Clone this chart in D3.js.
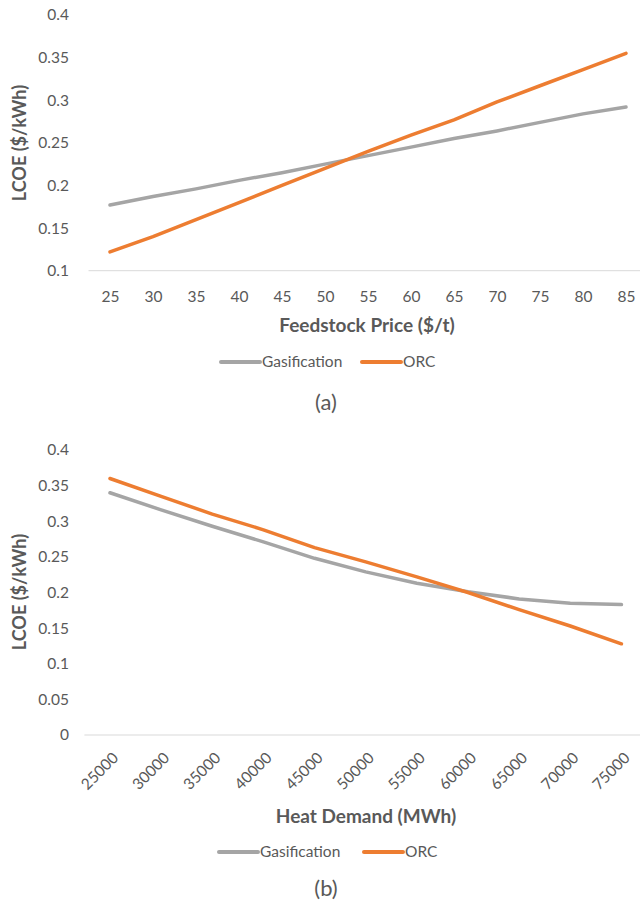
<!DOCTYPE html>
<html>
<head>
<meta charset="utf-8">
<script src="https://cdn.jsdelivr.net/npm/d3@7"></script>
<style>
  body { margin: 0; background: #fff; }
  svg { display: block; }
  text { font-family: Lato, "Open Sans", sans-serif; fill: #595959; }
</style>
</head>
<body>
<svg id="chart" width="640" height="905"></svg>
<script>
// Panel (a): LCOE against feedstock price
const feedstockPrice = [25, 30, 35, 40, 45, 50, 55, 60, 65, 70, 75, 80, 85];
const gasificationA = [0.177, 0.187, 0.196, 0.206, 0.215, 0.225, 0.235, 0.245, 0.255, 0.264, 0.274, 0.284, 0.292];
const orcA = [0.122, 0.140, 0.160, 0.180, 0.200, 0.220, 0.240, 0.259, 0.277, 0.298, 0.317, 0.336, 0.355];
const yTicksA = [0.1, 0.15, 0.2, 0.25, 0.3, 0.35, 0.4];

// Panel (b): LCOE against heat demand
const heatDemand = [25000, 30000, 35000, 40000, 45000, 50000, 55000, 60000, 65000, 70000, 75000];
const gasificationB = [0.340, 0.316, 0.293, 0.271, 0.248, 0.229, 0.213, 0.201, 0.191, 0.185, 0.183];
const orcB = [0.360, 0.335, 0.310, 0.288, 0.263, 0.243, 0.222, 0.200, 0.176, 0.153, 0.128];
const yTicksB = [0, 0.05, 0.1, 0.15, 0.2, 0.25, 0.3, 0.35, 0.4];

const seriesNames = ["Gasification", "ORC"];
const seriesColors = ["#A5A5A5", "#ED7D31"];

const svg = d3.select("#chart");

function panel(opts) {
  const g = svg.append("g");
  const x = d3.scalePoint().domain(opts.cats).range(opts.xRange).padding(0.5);
  const y = d3.scaleLinear().domain(opts.yDomain).range(opts.yRange);

  // baseline gridline
  g.append("line")
    .attr("x1", opts.xRange[0]).attr("x2", opts.xRange[1])
    .attr("y1", y(opts.yDomain[0])).attr("y2", y(opts.yDomain[0]))
    .attr("stroke", "#D9D9D9").attr("stroke-width", 1);

  // y axis labels
  const yAxis = d3.axisLeft(y).tickValues(opts.yTicks).tickSize(0).tickPadding(0)
    .tickFormat(d => d3.format("")(+d.toFixed(2)));
  const ya = g.append("g").attr("transform", `translate(${opts.yLabelX},0)`).call(yAxis);
  ya.select(".domain").remove();
  ya.selectAll("text").attr("font-size", 15.5).attr("fill", "#595959")
    .attr("font-family", "Lato, 'Open Sans', sans-serif");

  // x axis labels
  const xAxis = d3.axisBottom(x).tickSize(0).tickPadding(0);
  const xa = g.append("g").attr("transform", `translate(0,${y(opts.yDomain[0])})`).call(xAxis);
  xa.select(".domain").remove();
  xa.selectAll("text").attr("font-size", 15.5).attr("fill", "#595959")
    .attr("font-family", "Lato, 'Open Sans', sans-serif");
  if (opts.rotate) {
    xa.selectAll("text")
      .attr("text-anchor", "end")
      .attr("dy", "0.35em")
      .attr("transform", "translate(5,20) rotate(-45)");
  } else {
    xa.selectAll("text").attr("dy", "0").attr("y", 31);
  }

  // series lines
  const line = d3.line().x((d, i) => x(opts.cats[i])).y(d => y(d));
  opts.series.forEach((s, i) => {
    g.append("path").datum(s)
      .attr("d", line)
      .attr("fill", "none")
      .attr("stroke", seriesColors[i])
      .attr("stroke-width", 3.5)
      .attr("stroke-linecap", "round")
      .attr("stroke-linejoin", "round");
  });

  // axis titles
  g.append("text").attr("x", opts.xTitlePos[0]).attr("y", opts.xTitlePos[1])
    .attr("text-anchor", "middle").attr("font-size", 19).attr("font-weight", "bold")
    .text(opts.xTitle);
  g.append("text")
    .attr("transform", `translate(${opts.yTitlePos[0]},${opts.yTitlePos[1]}) rotate(-90)`)
    .attr("text-anchor", "middle").attr("font-size", 18).attr("font-weight", "bold")
    .text("LCOE ($/kWh)");

  // legend
  const lg = g.append("g").attr("transform", `translate(0,${opts.legendY})`);
  opts.legendX.forEach((lx, i) => {
    lg.append("line").attr("x1", lx).attr("x2", lx + 39).attr("y1", 0).attr("y2", 0)
      .attr("stroke", seriesColors[i]).attr("stroke-width", 4).attr("stroke-linecap", "round");
    lg.append("text").attr("x", lx + 41).attr("y", 0).attr("dy", "0.35em")
      .attr("font-size", 15.5).text(seriesNames[i]);
  });

  // panel caption
  g.append("text").attr("x", 326).attr("y", opts.captionY).attr("dy", "0.35em")
    .attr("text-anchor", "middle").attr("font-size", 22).attr("fill", "#222")
    .text(opts.caption);
}

panel({
  cats: feedstockPrice, xRange: [88.5, 647.5],
  yDomain: [0.1, 0.4], yRange: [270.7, 15], yTicks: yTicksA, yLabelX: 69,
  series: [gasificationA, orcA],
  xTitle: "Feedstock Price ($/t)", xTitlePos: [367, 332], yTitlePos: [26, 143],
  legendY: 362, legendX: [221, 362], caption: "(a)", captionY: 402
});

panel({
  cats: heatDemand, xRange: [84.4, 647],
  yDomain: [0, 0.4], yRange: [735, 450], yTicks: yTicksB, yLabelX: 69,
  series: [gasificationB, orcB], rotate: true,
  xTitle: "Heat Demand (MWh)", xTitlePos: [366, 823], yTitlePos: [26, 592],
  legendY: 852, legendX: [219, 364], caption: "(b)", captionY: 888
});
</script>
</body>
</html>
